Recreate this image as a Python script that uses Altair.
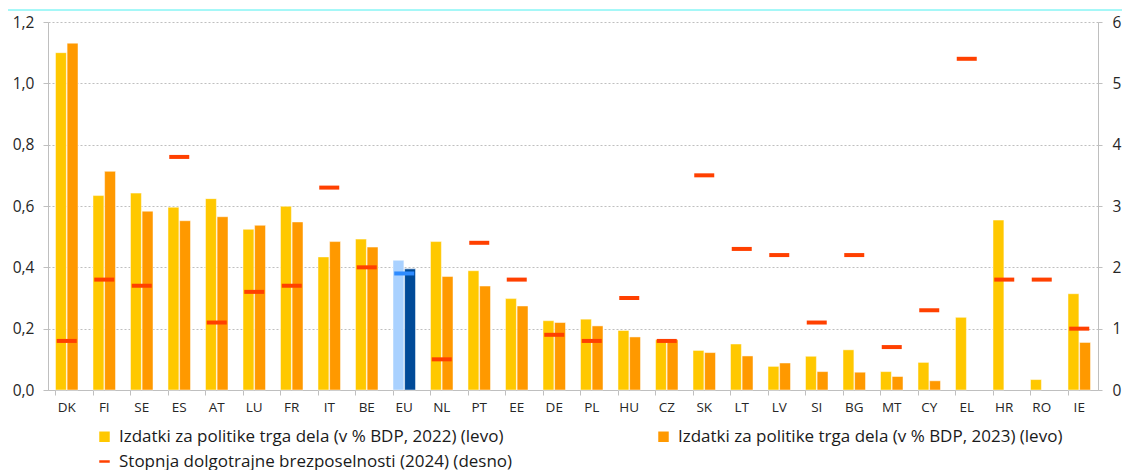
import altair as alt
import pandas as pd

countries = ["DK", "FI", "SE", "ES", "AT", "LU", "FR", "IT", "BE", "EU", "NL", "PT", "EE", "DE",
             "PL", "HU", "CZ", "SK", "LT", "LV", "SI", "BG", "MT", "CY", "EL", "HR", "RO", "IE"]
exp_2022 = [1.100, 0.634, 0.642, 0.596, 0.624, 0.524, 0.599, 0.434, 0.492, 0.423, 0.484, 0.389, 0.298, 0.226,
            0.231, 0.194, 0.164, 0.129, 0.150, 0.077, 0.110, 0.131, 0.060, 0.090, 0.237, 0.554, 0.034, 0.314]
exp_2023 = [1.131, 0.713, 0.583, 0.552, 0.565, 0.537, 0.548, 0.484, 0.466, 0.395, 0.370, 0.339, 0.274, 0.220,
            0.209, 0.173, 0.164, 0.122, 0.111, 0.088, 0.060, 0.058, 0.044, 0.030, None, None, None, 0.155]
ltu_2024 = [0.8, 1.8, 1.7, 3.8, 1.1, 1.6, 1.7, 3.3, 2.0, 1.9, 0.5, 2.4, 1.8, 0.9,
            0.8, 1.5, 0.8, 3.5, 2.3, 2.2, 1.1, 2.2, 0.7, 1.3, 5.4, 1.8, 1.8, 1.0]

lab22 = "Izdatki za politike trga dela (v % BDP, 2022) (levo)"
lab23 = "Izdatki za politike trga dela (v % BDP, 2023) (levo)"
lab_ltu = "Stopnja dolgotrajne brezposelnosti (2024) (desno)"

rows = []
for c, a, b in zip(countries, exp_2022, exp_2023):
    for yr, v, lab in (("2022", a, lab22), ("2023", b, lab23)):
        if v is None:
            continue
        key = ("EU " + yr) if c == "EU" else lab
        rows.append({"country": c, "year": yr, "value": v, "key": key})
bars_df = pd.DataFrame(rows)
ltu_df = pd.DataFrame({"country": countries, "ltu": ltu_2024,
                       "key": ["EU LTU" if c == "EU" else lab_ltu for c in countries]})

FONT = "Open Sans"
GRID = "#BFBFBF"
TXT = "#262626"

xenc = alt.X("country:N", sort=countries, title=None,
             scale=alt.Scale(paddingInner=0.4, paddingOuter=0.2),
             axis=alt.Axis(labelAngle=0, labelFontSize=13.5, labelFont=FONT, labelColor=TXT,
                           bandPosition=0, tickSize=5, tickColor=GRID, domainColor=GRID,
                           labelPadding=5, grid=False))

bars = alt.Chart(bars_df).mark_bar(stroke="#ffffff", strokeWidth=0.8, strokeOpacity=0.6).encode(
    x=xenc,
    xOffset=alt.XOffset("year:N", scale=alt.Scale(domain=["2022", "2023"], paddingInner=0.06)),
    y=alt.Y("value:Q", title=None,
            scale=alt.Scale(domain=[0, 1.2], nice=False),
            axis=alt.Axis(values=[0, 0.2, 0.4, 0.6, 0.8, 1.0, 1.2], format=".1f",
                          labelExpr="replace(datum.label, '.', ',')",
                          labelFontSize=15.5, labelFont=FONT, labelColor=TXT,
                          grid=True, gridColor=GRID, gridDash=[2, 2], gridWidth=1,
                          tickSize=5, tickColor=GRID, domainColor=GRID, labelPadding=9)),
    color=alt.Color("key:N",
                    scale=alt.Scale(domain=[lab22, lab23, "EU 2022", "EU 2023"],
                                    range=["#FFC800", "#FF9900", "#A9D1FF", "#004A98"]),
                    legend=alt.Legend(values=[lab22, lab23], title=None, orient="none",
                                      legendX=48, legendY=406, direction="horizontal",
                                      symbolType="square", symbolSize=110, symbolStrokeWidth=0,
                                      labelFontSize=17, labelFont=FONT, labelColor="#1a1a1a",
                                      columnPadding=151, labelLimit=0, padding=0, labelOffset=6)),
)

ticks = alt.Chart(ltu_df).mark_tick(thickness=4, size=20, opacity=1).encode(
    x=alt.X("country:N", sort=countries),
    y=alt.Y("ltu:Q", title=None,
            scale=alt.Scale(domain=[0, 6], nice=False),
            axis=alt.Axis(orient="right", values=[0, 1, 2, 3, 4, 5, 6], format="d",
                          labelFontSize=15.5, labelFont=FONT, labelColor=TXT,
                          grid=False, tickSize=4, tickColor=GRID, domainColor=GRID, labelPadding=10)),
    color=alt.Color("key:N",
                    scale=alt.Scale(domain=[lab_ltu, "EU LTU"], range=["#FF4000", "#2E8BFF"]),
                    legend=alt.Legend(values=[lab_ltu], title=None, orient="none",
                                      legendX=48, legendY=431, symbolType="stroke",
                                      symbolSize=110, symbolStrokeWidth=2.5,
                                      symbolStrokeColor="#FF4000",
                                      labelFontSize=17, labelFont=FONT, labelColor="#1a1a1a",
                                      labelLimit=0, padding=0, labelOffset=6)),
)

frame_line = alt.Chart(pd.DataFrame({"k": [0]})).mark_rule(color="#4DF0F0", strokeWidth=1).encode(
    x=alt.value(-41), x2=alt.value(1080), y=alt.value(-12))

chart = alt.layer(bars, ticks, frame_line).resolve_scale(
    y="independent", color="independent"
).properties(
    width=1050, height=368,
    autosize=alt.AutoSizeParams(type="none"),
    padding={"left": 40, "top": 14, "right": 24, "bottom": 80},
).configure_view(stroke=None)

chart.save("out.html", embed_options={"renderer": "svg", "actions": False})
